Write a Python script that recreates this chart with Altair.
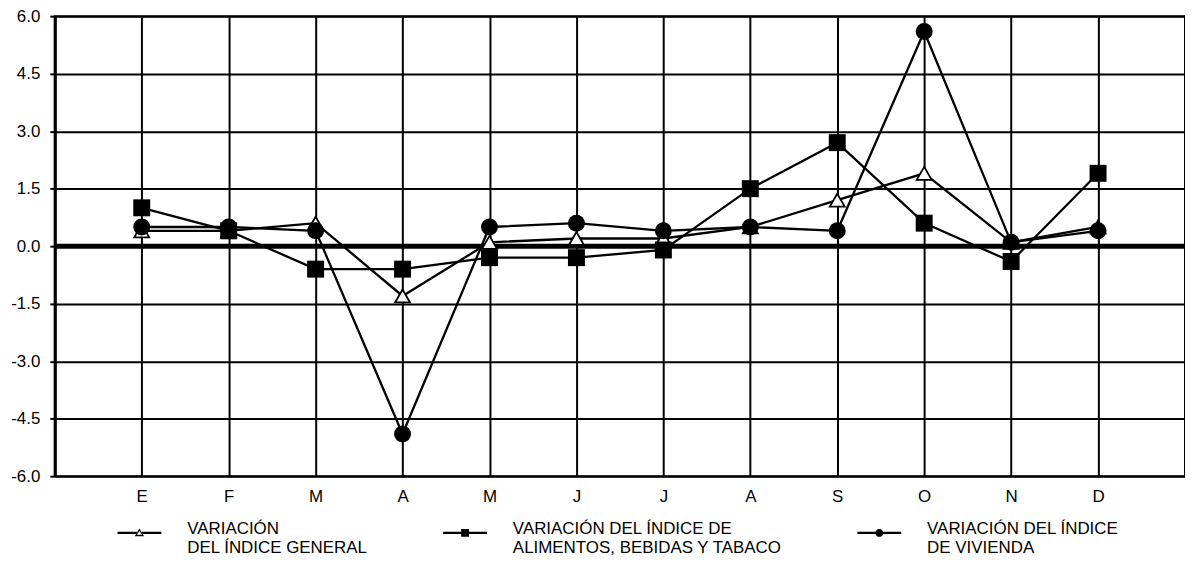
import altair as alt
import pandas as pd

months = ["E", "F", "M", "A", "M", "J", "J", "A", "S", "O", "N", "D"]
general = [0.4, 0.4, 0.6, -1.3, 0.1, 0.2, 0.2, 0.5, 1.2, 1.9, 0.1, 0.5]
food = [1.0, 0.4, -0.6, -0.6, -0.3, -0.3, -0.1, 1.5, 2.7, 0.6, -0.4, 1.9]
housing = [0.5, 0.5, 0.4, -4.9, 0.5, 0.6, 0.4, 0.5, 0.4, 5.6, 0.1, 0.4]

series_names = [
    "VARIACIÓN|DEL ÍNDICE GENERAL",
    "VARIACIÓN DEL ÍNDICE DE|ALIMENTOS, BEBIDAS Y TABACO",
    "VARIACIÓN DEL ÍNDICE|DE VIVIENDA",
]
y_ticks = [-6.0, -4.5, -3.0, -1.5, 0.0, 1.5, 3.0, 4.5, 6.0]

rows = []
for name, vals in zip(series_names, [general, food, housing]):
    for i, (m, v) in enumerate(zip(months, vals)):
        rows.append({"pos": i + 1, "month": m, "series": name, "value": v})
df = pd.DataFrame(rows)

label_arr = "[''," + ",".join("'%s'" % m for m in months) + ",'']"
FS = 17

x_enc = alt.X(
    "pos:Q",
    scale=alt.Scale(domain=[0, len(months) + 1], nice=False, zero=False),
    axis=alt.Axis(
        values=list(range(0, len(months) + 2)),
        labelExpr=label_arr + "[datum.value]",
        title=None,
        grid=True,
        ticks=False,
        tickSize=0,
        domain=False,
        labelPadding=12,
        labelFontSize=FS,
    ),
)
y_enc = alt.Y(
    "value:Q",
    scale=alt.Scale(domain=[-6, 6], nice=False),
    axis=alt.Axis(
        values=y_ticks,
        labelExpr="replace(format(datum.value, '.1f'), '\u2212', '-')",
        title=None,
        grid=True,
        tickSize=5,
        tickWidth=2,
        labelPadding=10,
        domainWidth=3,
        labelFontSize=FS,
    ),
)

base = alt.Chart(df)

zero_line = alt.Chart(pd.DataFrame({"z": [0.0]})).mark_rule(
    color="black", strokeWidth=5
).encode(y=alt.Y("z:Q"))

lines = base.mark_line(color="black", strokeWidth=2.3).encode(
    x=x_enc, y=y_enc, detail="series:N", order="pos:Q"
)

tri = base.transform_filter(alt.datum.series == series_names[0]).mark_point(
    shape="triangle-up", size=225, fill="white", stroke="black",
    strokeWidth=1.8, opacity=1, filled=False
).encode(x=x_enc, y=y_enc)

sq = base.transform_filter(alt.datum.series == series_names[1]).mark_point(
    shape="square", size=290, filled=True, color="black", opacity=1
).encode(x=x_enc, y=y_enc)

circ = base.transform_filter(alt.datum.series == series_names[2]).mark_point(
    shape="circle", size=290, filled=True, color="black", opacity=1
).encode(x=x_enc, y=y_enc)

# legend symbols: line with a small marker, as filled unit paths
d = 0.18
def sy(v):
    return "%.3f" % (v + d)

legend_paths = [
    "M-1,{a}H-0.12V{b}H-1Z M0.12,{a}H1V{b}H0.12Z "
    "M0,{t}L0.21,{bb}L-0.21,{bb}Z M0,{ti}L-0.12,{bi}L0.12,{bi}Z".format(
        a=sy(-0.05), b=sy(0.05), t=sy(-0.2), bb=sy(0.15), ti=sy(-0.09), bi=sy(0.09)
    ),
    "M-1,{a}H1V{b}H-1Z M-0.18,{t}H0.18V{bb}H-0.18Z".format(
        a=sy(-0.05), b=sy(0.05), t=sy(-0.18), bb=sy(0.18)
    ),
    "M-1,{a}H1V{b}H-1Z M0.18,{c}A0.18,0.18,0,1,1,-0.18,{c}A0.18,0.18,0,1,1,0.18,{c}Z".format(
        a=sy(-0.05), b=sy(0.05), c=sy(0.0)
    ),
]

leg = alt.Legend(
    title=None,
    orient="none",
    legendX=63,
    legendY=493,
    direction="horizontal",
    columnPadding=75,
    symbolSize=1936,
    symbolStrokeWidth=0,
    symbolFillColor="black",
    labelOffset=26,
    labelLimit=600,
    labelFontSize=FS,
    labelExpr="split(datum.label, '|')",
)

legend_layer = base.transform_filter("false").mark_point(
    filled=True, color="black", opacity=1
).encode(
    x=x_enc,
    y=y_enc,
    shape=alt.Shape("series:N", scale=alt.Scale(domain=series_names, range=legend_paths), legend=leg),
)

chart = alt.layer(zero_line, lines, tri, sq, circ, legend_layer).properties(
    width=1135,
    height=462,
    autosize=alt.AutoSizeParams(type="none"),
    padding={"left": 47, "top": 7, "right": 0, "bottom": 80},
).configure_view(
    stroke="black", strokeWidth=2
).configure_axis(
    gridColor="black", gridWidth=2, gridOpacity=1,
    domainColor="black", tickColor="black",
    labelColor="black", labelFont="Liberation Sans",
).configure_legend(
    labelFont="Liberation Sans", labelColor="black", padding=0,
)

chart.save("out.html", embed_options={"renderer": "svg", "actions": False})
